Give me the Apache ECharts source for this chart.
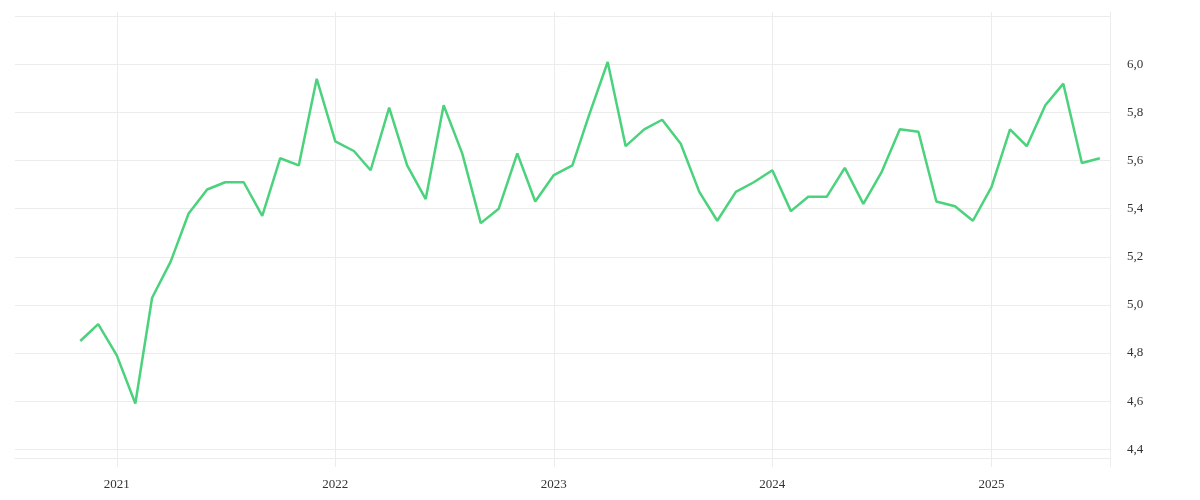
<!DOCTYPE html>
<html>
<head>
<meta charset="utf-8">
<style>
  html, body { margin: 0; padding: 0; background: #fff; }
  #chart { width: 1200px; height: 500px; }
</style>
<script src="https://cdn.jsdelivr.net/npm/echarts@6/dist/echarts.min.js"></script>
</head>
<body>
<div id="chart"></div>
<script>
// monthly values, Nov 2020 .. Jul 2025
var startYear = 2020, startMonth = 11;
var values = [
    4.85, 4.92,
    4.79, 4.59, 5.03, 5.18, 5.38, 5.48, 5.51, 5.51, 5.37, 5.61, 5.58, 5.94,
    5.68, 5.64, 5.56, 5.82, 5.58, 5.44, 5.83, 5.63, 5.34, 5.40, 5.63, 5.43,
    5.54, 5.58, 5.79, 6.01, 5.66, 5.73, 5.77, 5.67, 5.47, 5.35, 5.47, 5.51,
    5.56, 5.39, 5.45, 5.45, 5.57, 5.42, 5.55, 5.73, 5.72, 5.43, 5.41, 5.35,
    5.49, 5.73, 5.66, 5.83, 5.92, 5.59, 5.61
];
var yTicks = [4.4, 4.6, 4.8, 5.0, 5.2, 5.4, 5.6, 5.8, 6.0];

var data = [];
for (var i = 0; i < values.length; i++) {
    var m = startMonth - 1 + i;
    var y = startYear + Math.floor(m / 12);
    var mm = (m % 12) + 1;
    data.push([y + '-' + (mm < 10 ? '0' + mm : mm) + '-01', values[i]]);
}

var chart = echarts.init(document.getElementById('chart'));
var gridColor = '#ececec';
var labelFont = 'Liberation Serif';

var option = {
    animation: false,
    grid: { left: 15, right: 90, top: 12, bottom: 33 },
    xAxis: {
        type: 'time',
        min: '2020-07-15',
        max: '2025-07-18',
        offset: -9,
        minInterval: 365 * 24 * 3600 * 1000,
        axisLine: { show: true, lineStyle: { color: gridColor, width: 1 } },
        axisTick: { show: false },
        axisLabel: {
            color: '#333',
            fontFamily: labelFont,
            fontSize: 13,
            margin: 20,
            formatter: '{yyyy}'
        },
        splitLine: {
            show: true,
            showMinLine: false,
            showMaxLine: false,
            lineStyle: { color: gridColor, width: 1 }
        }
    },
    yAxis: {
        type: 'value',
        position: 'right',
        min: 4.326,
        max: 6.218,
        splitNumber: 9,
        axisLine: { show: true, lineStyle: { color: gridColor, width: 1 } },
        axisTick: { show: false },
        axisLabel: {
            color: '#333',
            fontFamily: labelFont,
            fontSize: 13,
            margin: 17,
            padding: [4, 0, 0, 0],
            showMinLabel: false,
            showMaxLabel: false,
            formatter: function (v) {
                for (var k = 0; k < yTicks.length; k++) {
                    if (Math.abs(v - yTicks[k]) < 1e-6) return yTicks[k].toFixed(1).replace('.', ',');
                }
                return '';
            }
        },
        splitLine: {
            show: true,
            showMinLine: false,
            showMaxLine: false,
            lineStyle: { color: gridColor, width: 1 }
        }
    },
    series: [{
        type: 'line',
        data: data,
        showSymbol: false,
        symbol: 'none',
        lineStyle: { color: '#4ad27c', width: 2.5 },
        itemStyle: { color: '#4ad27c' }
    }]
};
chart.setOption(option);
</script>
</body>
</html>
